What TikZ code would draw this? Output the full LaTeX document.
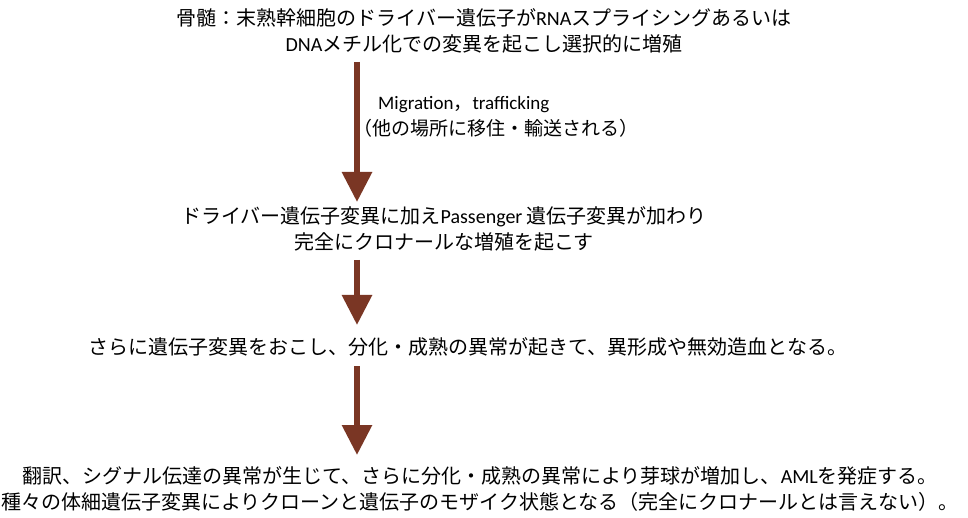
\documentclass[tikz,border=0pt]{standalone}
\usepackage{fontspec}
\setmainfont{Carlito}
\newfontfamily\jp{Noto Sans CJK JP}
\usetikzlibrary{arrows.meta}
\definecolor{arrowbrown}{RGB}{122,54,36}
\tikzset{
  txt/.style={font=\fontsize{20}{26}\selectfont, align=center, inner sep=0pt, text=black},
  lbl/.style={font=\fontsize{19}{26}\selectfont, align=left, inner sep=0pt, anchor=west, text=black},
  flow/.style={line width=6pt, draw=arrowbrown, -{Triangle[width=29pt,length=30pt,fill=arrowbrown]}}
}
\begin{document}
\begin{tikzpicture}[x=1pt,y=-1pt]
\fill[white] (0,0) rectangle (968,518);
\useasboundingbox (0,0) rectangle (968,518);

\node[txt] (n1) at (484,30.5) {{\jp 骨髄：末熟幹細胞のドライバー遺伝子が}RNA{\jp スプライシングあるいは}\\DNA{\jp メチル化での変異を起こし選択的に増殖}};
\node[txt] (n2) at (444,228.5) {{\jp ドライバー遺伝子変異に加え}Passenger {\jp 遺伝子変異が加わり}\\{\jp 完全にクロナールな増殖を起こす}};
\node[txt] (n3) at (468,347) {\jp さらに遺伝子変異をおこし、分化・成熟の異常が起きて、異形成や無効造血となる。};
\node[txt] (n4) at (480,489) {{\jp 翻訳、シグナル伝達の異常が生じて、さらに分化・成熟の異常により芽球が増加し、}AML{\jp を発症する。}\\{\jp 種々の体細遺伝子変異によりクローンと遺伝子のモザイク状態となる（完全にクロナールとは言えない）。}};
\node[lbl] (lab) at (353,117) {\hspace*{25pt}Migration{\jp ，}trafficking\\{\jp （他の場所に移住・輸送される）}};

\coordinate (a1s) at (357,62);
\coordinate (a1e) at (357,202);
\coordinate (a2s) at (357,260);
\coordinate (a2e) at (357,325);
\coordinate (a3s) at (357,366);
\coordinate (a3e) at (357,455);
\draw[flow] (a1s) -- (a1e);
\draw[flow] (a2s) -- (a2e);
\draw[flow] (a3s) -- (a3e);
\end{tikzpicture}
\end{document}
